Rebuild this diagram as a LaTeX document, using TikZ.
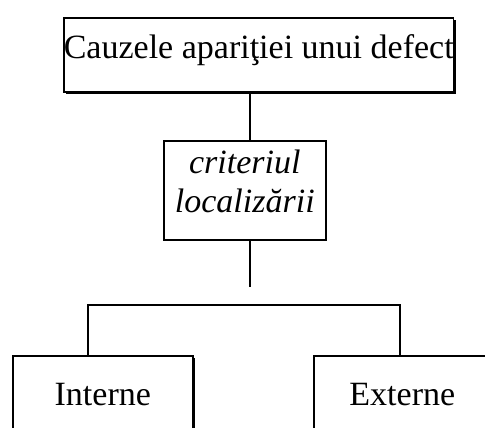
\documentclass[tikz,border=0pt]{standalone}
\usepackage{fontspec}
\setmainfont{Liberation Serif}
\usetikzlibrary{shadows}
\begin{document}
\begin{tikzpicture}[x=1pt, y=-1pt, line width=1.6pt,
  box/.style={draw, fill=white, rectangle, inner sep=0pt, anchor=north west,
    font=\fontsize{34}{39}\selectfont},
  critbox/.style={box, align=center,
    font=\fontsize{34}{39}\selectfont\itshape},
  shadebox/.style={drop shadow={shadow xshift=2.2pt, shadow yshift=-2.2pt,
    fill=black, opacity=1}},
  link/.style={line width=1.6pt}]
\useasboundingbox (0,0) rectangle (485,428);
\clip (0,0) rectangle (485,428);

% boxes
\node[box, shadebox, minimum width=388pt, text height=41pt, text depth=33pt]
  (cause) at (63,17) {Cauzele apariţiei unui defect};
\node[critbox, minimum width=162pt, text height=72pt, text depth=27pt]
  (crit) at (163,140) {criteriul\\localizării};
\node[box, shadebox, minimum width=180pt, text height=50pt, text depth=40pt]
  (int) at (12,355) {Interne};
\node[box, minimum width=177pt, text height=50pt, text depth=40pt]
  (ext) at (313,355) {Externe};

% connectors
\coordinate (trunk) at (250,0);
\coordinate (stub) at (250,287);
\coordinate (lb) at (88,305);
\coordinate (rb) at (400,305);
\draw[link] (cause.south -| trunk) -- (crit.north -| trunk);
\draw[link] (crit.south -| trunk) -- (stub);
\draw[link] (int.north -| lb) |- (rb) -- (ext.north -| rb);
\end{tikzpicture}
\end{document}
